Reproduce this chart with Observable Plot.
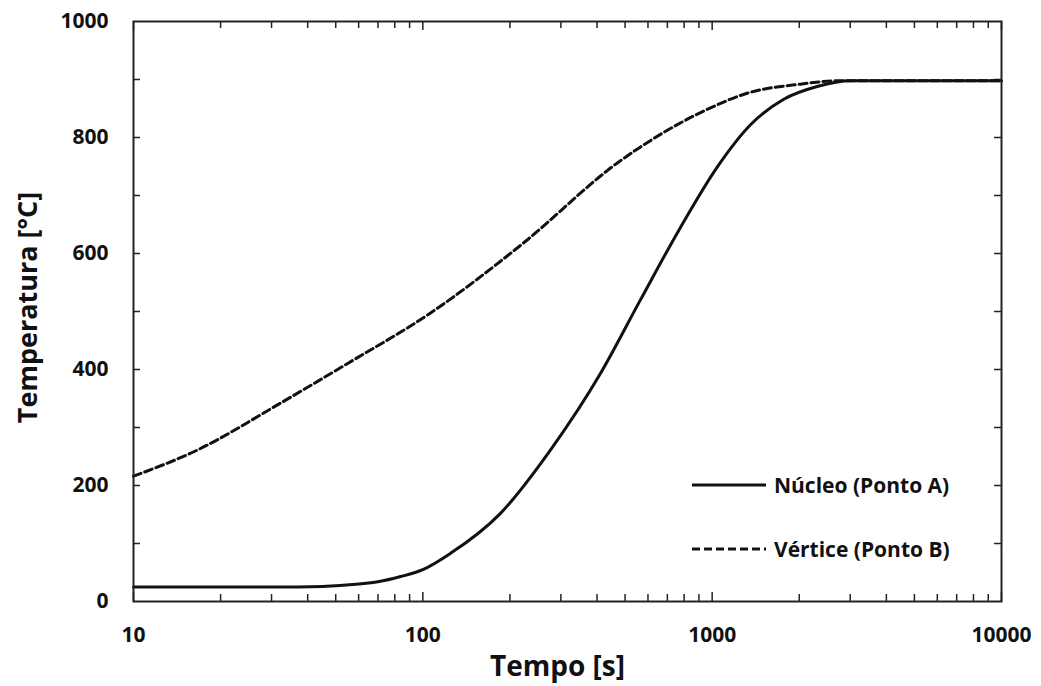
<!DOCTYPE html>
<html>
<head>
<meta charset="utf-8">
<script src="https://cdn.jsdelivr.net/npm/d3@7"></script>
<script src="https://cdn.jsdelivr.net/npm/@observablehq/plot@0.6"></script>
<style>
  html, body { margin: 0; padding: 0; background: #fff; }
  #chart { position: relative; width: 1041px; height: 686px; font-family: "Open Sans", sans-serif; }
  #legend { position: absolute; left: 692px; top: 470px; font-family: "Open Sans", sans-serif; font-weight: 700; font-size: 21px; color: #111; }
  .row { display: flex; align-items: center; height: 30px; }
  .row + .row { margin-top: 34px; }
  .row svg { display: block; margin-right: 8px; }
</style>
</head>
<body>
<div id="chart"></div>
<script>
// Série: Núcleo (Ponto A)
const tempoNucleo = [10, 30, 45, 60, 70, 83.8, 100, 124.6, 185.5, 276, 411, 565, 777, 1041, 1357, 1768, 2306, 3006, 10000];
const tempNucleo  = [25, 25, 26, 30, 34, 43, 55, 83, 152, 261, 393, 520, 645, 749, 822, 866, 888, 898, 898];
// Série: Vértice (Ponto B)
const tempoVertice = [10, 16.6, 32.2, 54.8, 106, 217.6, 482, 912, 1357, 2018, 2777, 10000];
const tempVertice  = [216, 261, 342, 410, 497, 614, 760, 843, 878, 892, 898, 898];

const seriesNames = ["Núcleo (Ponto A)", "Vértice (Ponto B)"];
const xTickLabels = [10, 100, 1000, 10000];
const yTickLabels = [0, 200, 400, 600, 800, 1000];
const xLabel = "Tempo [s]";
const yLabel = "Temperatura [°C]";

const data = [
  ...tempoNucleo.map((t, i) => ({t, T: tempNucleo[i], s: seriesNames[0]})),
  ...tempoVertice.map((t, i) => ({t, T: tempVertice[i], s: seriesNames[1]}))
];

const W = 1041, H = 686;
const mL = 133, mR = 40, mT = 21, mB = 85;
const plotW = W - mL - mR, plotH = H - mT - mB;
const tickLen = 7;

const xMinor = [];
for (let d = 10; d < 10000; d *= 10) for (let k = 2; k <= 9; k++) xMinor.push(d * k);
const yMinor = d3.range(100, 1000, 100);

const ink = "#222";
const font = "'Open Sans', sans-serif";

const chart = Plot.plot({
  width: W, height: H,
  marginLeft: mL, marginRight: mR, marginTop: mT, marginBottom: mB,
  style: {fontFamily: font, fontWeight: 700, fontSize: "21px", color: "#111", background: "#fff"},
  x: {type: "log", domain: [10, 10000]},
  y: {domain: [0, 1000]},
  marks: [
    Plot.tickX(xMinor, {x: d => d, insetTop: plotH - tickLen, stroke: ink, strokeWidth: 1.5}),
    Plot.tickX(xMinor, {x: d => d, insetBottom: plotH - tickLen, stroke: ink, strokeWidth: 1.5}),
    Plot.tickX(xTickLabels, {x: d => d, insetTop: plotH - tickLen - 2, stroke: ink, strokeWidth: 1.5}),
    Plot.tickX(xTickLabels, {x: d => d, insetBottom: plotH - tickLen - 2, stroke: ink, strokeWidth: 1.5}),
    Plot.tickY(yMinor, {y: d => d, insetRight: plotW - tickLen, stroke: ink, strokeWidth: 1.5}),
    Plot.tickY(yMinor, {y: d => d, insetLeft: plotW - tickLen, stroke: ink, strokeWidth: 1.5}),
    Plot.axisX(xTickLabels, {tickSize: 0, tickPadding: 26, tickFormat: d => String(d), label: null, fontSize: 21, fontWeight: 700}),
    Plot.axisY(yTickLabels, {tickSize: 0, tickPadding: 25, tickFormat: d => String(d), label: null, fontSize: 21, fontWeight: 700}),
    Plot.text([xLabel], {frameAnchor: "bottom", textAnchor: "middle", lineAnchor: "middle", dx: -10, dy: 66, fontSize: 28, fontWeight: 700, fill: "#111"}),
    Plot.text([yLabel], {frameAnchor: "left", textAnchor: "middle", lineAnchor: "middle", rotate: -90, dx: -105, dy: -4, fontSize: 27, fontWeight: 700, fill: "#111"}),
    Plot.line(data.filter(d => d.s === seriesNames[1]), {x: "t", y: "T", stroke: "#111", strokeWidth: 3, strokeDasharray: "8,4", curve: "monotone-x"}),
    Plot.line(data.filter(d => d.s === seriesNames[0]), {x: "t", y: "T", stroke: "#111", strokeWidth: 3, curve: "monotone-x"}),
    Plot.frame({stroke: ink, strokeWidth: 2})
  ]
});

const host = document.getElementById("chart");
host.appendChild(chart);

const legend = document.createElement("div");
legend.id = "legend";
seriesNames.forEach((name, i) => {
  const row = document.createElement("div");
  row.className = "row";
  row.innerHTML = `<svg width="74" height="6"><line x1="0" y1="3" x2="74" y2="3" stroke="#111" stroke-width="3" ${i === 1 ? 'stroke-dasharray="8,4"' : ''}/></svg><span>${name}</span>`;
  legend.appendChild(row);
});
host.appendChild(legend);
</script>
</body>
</html>
